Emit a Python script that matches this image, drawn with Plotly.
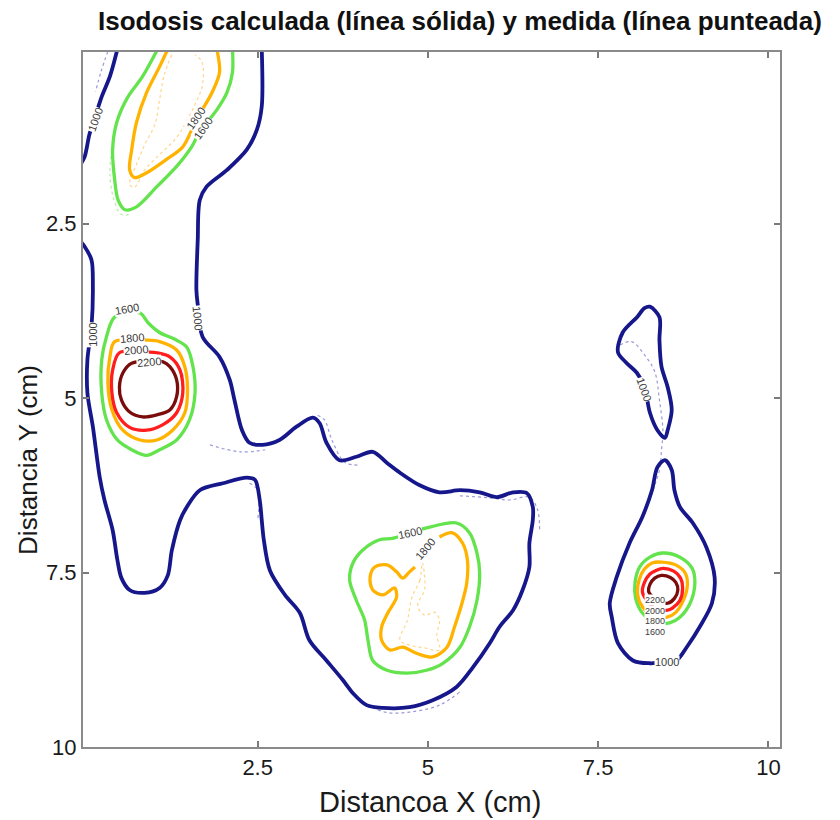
import plotly.graph_objects as go

# Isodose levels (cGy)
LEVELS = [1000, 1600, 1800, 2000, 2200]

# ---------------- calculated isodoses (solid) : x, y in cm ----------------
calc_1000_main_x = [2.56, 2.56, 2.49, 2.34, 2.05, 1.75, 1.65, 1.62, 1.60, 1.62, 1.69, 1.94, 2.09, 2.16, 2.27,
                    2.38, 2.57, 2.82, 3.07, 3.31, 3.41, 3.51, 3.70, 3.95, 4.19, 4.40, 4.59, 4.88, 5.17, 5.47,
                    5.76, 6.01, 6.25, 6.45, 6.54, 6.54, 6.49, 6.49, 6.39, 6.25, 6.05, 5.91, 5.66, 5.42, 5.07,
                    4.73, 4.34, 4.10, 3.90, 3.75, 3.51, 3.26, 3.12, 2.90, 2.68, 2.59, 2.56, 2.53, 2.46, 2.34,
                    1.99, 1.65, 1.46, 1.36, 1.24, 1.18, 1.06, 0.84, 0.62, 0.50, 0.44, 0.37, 0.25, 0.18, 0.08,
                    0.00, 0.00, 0.06, 0.08, 0.06, -0.04, -0.10]
calc_1000_main_y = [0.00, 0.82, 1.15, 1.44, 1.73, 1.97, 2.16, 2.73, 3.45, 3.66, 4.12, 4.41, 4.74, 5.03, 5.46,
                    5.64, 5.67, 5.60, 5.41, 5.28, 5.36, 5.64, 5.89, 5.84, 5.77, 5.93, 6.07, 6.25, 6.35, 6.32,
                    6.35, 6.42, 6.35, 6.36, 6.56, 6.75, 7.08, 7.42, 7.75, 8.04, 8.28, 8.51, 8.86, 9.14, 9.33,
                    9.43, 9.44, 9.40, 9.23, 9.04, 8.76, 8.47, 8.08, 7.82, 7.47, 7.03, 6.75, 6.46, 6.17, 6.14,
                    6.22, 6.32, 6.56, 6.75, 7.18, 7.54, 7.72, 7.79, 7.75, 7.58, 7.32, 6.89, 6.46, 6.13, 5.41,
                    4.93, 4.45, 3.98, 3.40, 3.02, 2.83, 2.76]

calc_1000_corner_x = [0.44, 0.33, 0.21, 0.11, 0.03, -0.04, -0.10]
calc_1000_corner_y = [0.00, 0.39, 0.68, 0.98, 1.22, 1.54, 1.65]

calc_1600_top_x = [1.03, 0.81, 0.59, 0.43, 0.37, 0.40, 0.45, 0.55, 0.72, 1.02, 1.31, 1.53, 1.65, 1.90, 2.05, 2.13, 2.13]
calc_1600_top_y = [0.00, 0.39, 0.69, 1.05, 1.44, 1.87, 2.16, 2.30, 2.26, 1.97, 1.68, 1.40, 1.18, 0.87, 0.62, 0.33, 0.00]

calc_1800_top_x = [1.18, 1.06, 0.87, 0.72, 0.65, 0.62, 0.69, 0.87, 1.16, 1.40, 1.60, 1.83, 1.94, 1.90]
calc_1800_top_y = [0.00, 0.25, 0.62, 1.05, 1.44, 1.73, 1.84, 1.77, 1.58, 1.40, 1.01, 0.62, 0.33, 0.00]

calc_1600_left_x = [0.77, 0.89, 1.06, 1.31, 1.46, 1.55, 1.58, 1.50, 1.31, 1.06, 0.87, 0.65, 0.44, 0.28, 0.21, 0.21, 0.28, 0.40]
calc_1600_left_y = [3.78, 3.92, 4.06, 4.17, 4.27, 4.55, 4.93, 5.31, 5.60, 5.74, 5.82, 5.74, 5.60, 5.31, 4.93, 4.45, 4.12, 3.84]

calc_1800_left_x = [0.89, 1.06, 1.31, 1.43, 1.47, 1.43, 1.25, 1.02, 0.77, 0.52, 0.36, 0.30, 0.33, 0.40]
calc_1800_left_y = [4.17, 4.19, 4.31, 4.55, 4.88, 5.21, 5.46, 5.60, 5.60, 5.46, 5.17, 4.78, 4.41, 4.19]

calc_2000_left_x = [0.91, 1.02, 1.21, 1.36, 1.40, 1.31, 1.11, 0.87, 0.62, 0.43, 0.36, 0.37, 0.47]
calc_2000_left_y = [4.34, 4.35, 4.41, 4.60, 4.93, 5.21, 5.38, 5.46, 5.42, 5.21, 4.93, 4.60, 4.35]

calc_2200_left_x = [1.11, 1.21, 1.31, 1.31, 1.21, 1.02, 0.81, 0.62, 0.50, 0.47, 0.52, 0.65]
calc_2200_left_y = [4.48, 4.55, 4.74, 4.98, 5.17, 5.24, 5.27, 5.20, 5.03, 4.84, 4.64, 4.50]

calc_1600_low_x = [4.98, 5.42, 5.61, 5.72, 5.76, 5.72, 5.61, 5.47, 5.22, 4.98, 4.69, 4.40, 4.19, 4.12, 4.07,
                   3.95, 3.85, 3.90, 4.04, 4.29, 4.48, 4.73]
calc_1600_low_y = [6.86, 6.79, 6.93, 7.22, 7.51, 7.90, 8.28, 8.57, 8.80, 8.90, 8.94, 8.90, 8.76, 8.47, 8.18,
                   7.90, 7.61, 7.36, 7.18, 7.03, 7.01, 6.93]

calc_1800_low_x = [5.17, 5.36, 5.51, 5.58, 5.57, 5.50, 5.39, 5.28, 5.07, 4.84, 4.63, 4.44, 4.32, 4.32, 4.41,
                   4.54, 4.51, 4.34, 4.19, 4.15, 4.22, 4.40, 4.54, 4.63, 4.73, 4.81]
calc_1800_low_y = [6.99, 6.93, 7.08, 7.32, 7.65, 7.94, 8.28, 8.57, 8.71, 8.66, 8.57, 8.61, 8.47, 8.28, 8.08,
                   7.85, 7.72, 7.82, 7.75, 7.57, 7.42, 7.39, 7.49, 7.58, 7.49, 7.42]

calc_1000_rup_x = [8.26, 8.40, 8.40, 8.43, 8.52, 8.58, 8.52, 8.48, 8.37, 8.26, 8.18, 8.07, 7.92, 7.79, 7.86, 8.07, 8.18]
calc_1000_rup_y = [3.69, 3.84, 4.17, 4.55, 4.84, 5.17, 5.46, 5.57, 5.46, 5.21, 4.84, 4.64, 4.50, 4.34, 4.06, 3.84, 3.71]

calc_1000_rlow_x = [8.48, 8.58, 8.62, 8.70, 8.89, 9.09, 9.21, 9.17, 8.99, 8.80, 8.65, 8.51, 8.26, 8.01, 7.79,
                    7.70, 7.67, 7.77, 7.96, 8.15, 8.29, 8.37]
calc_1000_rlow_y = [5.89, 6.03, 6.32, 6.56, 6.79, 7.14, 7.57, 7.94, 8.28, 8.57, 8.76, 8.78, 8.80, 8.76, 8.51,
                    8.14, 7.94, 7.57, 7.08, 6.70, 6.32, 5.99]

calc_1600_ring_x = [8.45, 8.70, 8.88, 8.92, 8.85, 8.70, 8.55, 8.33, 8.15, 8.05, 8.04, 8.11, 8.26]
calc_1600_ring_y = [7.22, 7.28, 7.44, 7.65, 7.94, 8.14, 8.22, 8.21, 8.08, 7.87, 7.65, 7.42, 7.28]
calc_1800_ring_x = [8.43, 8.64, 8.78, 8.81, 8.75, 8.64, 8.51, 8.30, 8.15, 8.08, 8.10, 8.18, 8.30]
calc_1800_ring_y = [7.35, 7.39, 7.51, 7.68, 7.90, 8.07, 8.14, 8.11, 7.99, 7.82, 7.61, 7.45, 7.36]
calc_2000_ring_x = [8.45, 8.61, 8.71, 8.74, 8.70, 8.59, 8.52, 8.35, 8.23, 8.15, 8.18, 8.26, 8.35]
calc_2000_ring_y = [7.44, 7.48, 7.58, 7.72, 7.90, 8.01, 8.04, 8.02, 7.92, 7.78, 7.64, 7.52, 7.47]
calc_2200_ring_x = [8.43, 8.56, 8.64, 8.67, 8.62, 8.52, 8.40, 8.30, 8.24, 8.26, 8.33]
calc_2200_ring_y = [7.54, 7.57, 7.64, 7.75, 7.87, 7.94, 7.92, 7.85, 7.77, 7.67, 7.58]

# ---------------- measured isodoses (dotted) ----------------
meas_1000_corner_x = [0.30, 0.20, 0.12]
meas_1000_corner_y = [0.03, 0.32, 0.61]
meas_1000_a_x = [3.38, 3.48, 3.59, 3.78, 4.00]
meas_1000_a_y = [5.25, 5.31, 5.60, 5.92, 5.96]
meas_1000_b_x = [5.47, 5.91, 6.20, 6.49, 6.61, 6.64]
meas_1000_b_y = [6.40, 6.43, 6.46, 6.42, 6.60, 6.89]
meas_1000_c_x = [3.78, 4.00, 4.37, 4.73, 5.17, 5.47]
meas_1000_c_y = [9.11, 9.33, 9.50, 9.50, 9.40, 9.21]
meas_1000_d_x = [2.38, 2.50, 2.50]
meas_1000_d_y = [6.22, 6.32, 6.75]
meas_1000_e_x = [1.80, 2.24, 2.61]
meas_1000_e_y = [5.67, 5.77, 5.74]
meas_1000_r_x = [7.82, 7.99, 8.18, 8.33, 8.40, 8.45, 8.43, 8.40, 8.33, 8.26]
meas_1000_r_y = [4.24, 4.19, 4.38, 4.62, 5.03, 5.46, 5.74, 6.03, 6.25, 6.46]
meas_1600_top_x = [0.36, 0.33, 0.39, 0.50, 0.65]
meas_1600_top_y = [1.44, 1.79, 2.16, 2.37, 2.36]
meas_1800_top_x = [1.24, 1.13, 1.06, 0.99, 0.84, 0.72, 0.62, 0.69, 0.84, 1.06, 1.28, 1.43, 1.58, 1.69, 1.68, 1.58]
meas_1800_top_y = [0.08, 0.36, 0.72, 1.08, 1.37, 1.65, 1.94, 1.98, 1.73, 1.51, 1.30, 1.08, 0.79, 0.51, 0.18, 0.08]
meas_1800_low_x = [4.92, 4.88, 4.76, 4.70, 4.59, 4.73, 4.95, 5.17, 5.13, 5.17, 5.10, 4.95, 4.85, 4.95, 4.95, 4.92]
meas_1800_low_y = [7.36, 7.61, 7.87, 8.18, 8.47, 8.54, 8.58, 8.61, 8.40, 8.18, 8.07, 8.11, 7.97, 7.75, 7.54, 7.36]

# contour-label anchors: level, x, y
label_level = [1000, 1800, 1600, 1000, 1000, 1600, 1800, 2000, 2200, 1600, 1800, 1000, 1000, 2200, 2000, 1800, 1600]
label_x = [0.11, 1.60, 1.69, 1.62, 0.07, 0.58, 0.65, 0.72, 0.91, 4.73, 4.96, 8.18, 8.51, 8.33, 8.33, 8.33, 8.33]
label_y = [1.01, 0.99, 1.14, 3.85, 4.09, 3.73, 4.14, 4.31, 4.48, 6.93, 7.16, 4.88, 8.78, 7.90, 8.05, 8.20, 8.35]

# axis ticks
TICKS = [2.5, 5, 7.5, 10]
TICK_TEXT = ["2.5", "5", "7.5", "10"]

# ---------------- styling ----------------
SOLID_COLOR = {1000: "#17178c", 1600: "#63e34c", 1800: "#ffb300", 2000: "#ff1d1d", 2200: "#7a0c0c"}
DOTTED_COLOR = {1000: "#9a9ad8", 1600: "#b3f0a6", 1800: "#ffd58a"}
label_angle = [-70, -55, -55, 85, -90, -10, -5, -5, -5, -12, -50, 70, 0, 0, 0, 0, 0]
label_size = [11, 11, 11, 11, 11, 11, 11, 11, 11, 11, 11, 11, 11, 9, 9, 9, 9]

calculated = [
    (1000, calc_1000_main_x, calc_1000_main_y, False),
    (1000, calc_1000_corner_x, calc_1000_corner_y, False),
    (1000, calc_1000_rup_x, calc_1000_rup_y, True),
    (1000, calc_1000_rlow_x, calc_1000_rlow_y, True),
    (1600, calc_1600_top_x, calc_1600_top_y, False),
    (1800, calc_1800_top_x, calc_1800_top_y, False),
    (1600, calc_1600_left_x, calc_1600_left_y, True),
    (1800, calc_1800_left_x, calc_1800_left_y, True),
    (2000, calc_2000_left_x, calc_2000_left_y, True),
    (2200, calc_2200_left_x, calc_2200_left_y, True),
    (1600, calc_1600_low_x, calc_1600_low_y, True),
    (1800, calc_1800_low_x, calc_1800_low_y, False),
    (1600, calc_1600_ring_x, calc_1600_ring_y, True),
    (1800, calc_1800_ring_x, calc_1800_ring_y, True),
    (2000, calc_2000_ring_x, calc_2000_ring_y, True),
    (2200, calc_2200_ring_x, calc_2200_ring_y, True),
]

measured = [
    (1000, meas_1000_corner_x, meas_1000_corner_y),
    (1000, meas_1000_a_x, meas_1000_a_y),
    (1000, meas_1000_b_x, meas_1000_b_y),
    (1000, meas_1000_c_x, meas_1000_c_y),
    (1000, meas_1000_d_x, meas_1000_d_y),
    (1000, meas_1000_e_x, meas_1000_e_y),
    (1000, meas_1000_r_x, meas_1000_r_y),
    (1600, meas_1600_top_x, meas_1600_top_y),
    (1800, meas_1800_top_x, meas_1800_top_y),
    (1800, meas_1800_low_x, meas_1800_low_y),
]

fig = go.Figure()

# measured lines first (thin, dotted) so the calculated lines sit on top
for level, xs, ys in measured:
    fig.add_trace(go.Scatter(
        x=xs, y=ys, mode="lines", hoverinfo="skip", showlegend=False,
        line=dict(color=DOTTED_COLOR[level], width=1.2, dash="dot", shape="spline", smoothing=1.0),
    ))

for level, xs, ys, closed in calculated:
    if closed:
        xs = list(xs) + [xs[0]]
        ys = list(ys) + [ys[0]]
    fig.add_trace(go.Scatter(
        x=xs, y=ys, mode="lines", hoverinfo="skip", showlegend=False,
        line=dict(color=SOLID_COLOR[level], width=3.8 if level == 1000 else 3.3,
                  shape="spline", smoothing=0.9),
    ))

annotations = []
for lv, lx, ly, ang, sz in zip(label_level, label_x, label_y, label_angle, label_size):
    annotations.append(dict(
        x=lx, y=ly, xref="x", yref="y", text=str(lv), showarrow=False, textangle=ang,
        font=dict(family="Liberation Sans", size=sz, color="#3c3c3c"),
        bgcolor="white", borderpad=0,
    ))

# titles
annotations.append(dict(
    text="<b>Isodosis calculada (línea sólida) y medida (línea punteada)</b>",
    xref="paper", yref="paper", x=0.541, y=1.045, xanchor="center", yanchor="middle",
    showarrow=False, font=dict(family="Liberation Sans", size=26, color="#111111"),
))
annotations.append(dict(
    text="Distancoa X (cm)", xref="paper", yref="paper", x=0.498, y=-0.079,
    xanchor="center", yanchor="middle", showarrow=False,
    font=dict(family="Liberation Sans", size=29, color="#1a1a1a"),
))
annotations.append(dict(
    text="Distancia Y (cm)", xref="paper", yref="paper", x=-0.079, y=0.413,
    xanchor="center", yanchor="middle", showarrow=False, textangle=-90,
    font=dict(family="Liberation Sans", size=26, color="#1a1a1a"),
))

axis_common = dict(
    showgrid=False, zeroline=False, showline=True, linecolor="#8a8a8a", linewidth=2,
    mirror="allticks", ticks="inside", ticklen=6, tickwidth=1.5, tickcolor="#7a7a7a",
    tickvals=TICKS, ticktext=TICK_TEXT,
    tickfont=dict(family="Liberation Sans", size=22, color="#1a1a1a"),
)

fig.update_layout(
    width=840, height=820,
    margin=dict(l=83, r=60, t=52, b=73),
    paper_bgcolor="white", plot_bgcolor="white",
    xaxis=dict(range=[-0.065, 10.17], **axis_common),
    yaxis=dict(range=[10.0, 0.04], **axis_common),
    annotations=annotations,
    showlegend=False,
)

fig.write_html("out.html")
